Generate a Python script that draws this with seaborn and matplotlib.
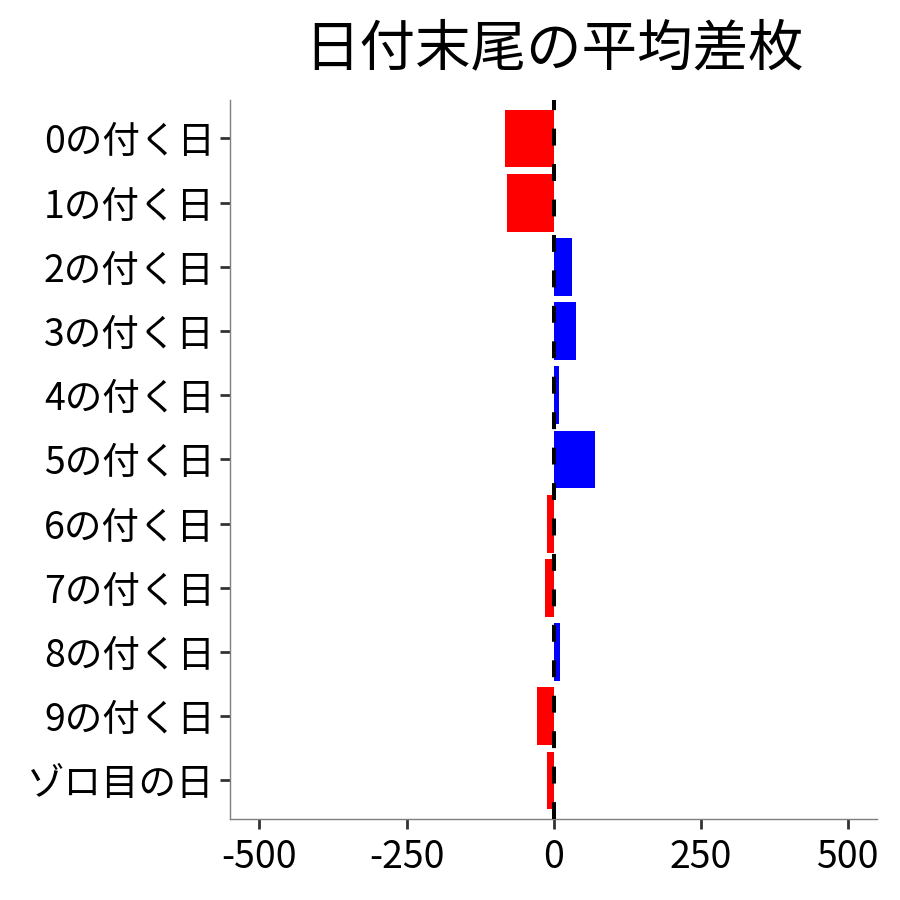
import matplotlib
matplotlib.use("Agg")
import matplotlib.pyplot as plt
import seaborn as sns
import pandas as pd

categories = ["0の付く日", "1の付く日", "2の付く日", "3の付く日", "4の付く日",
              "5の付く日", "6の付く日", "7の付く日", "8の付く日", "9の付く日", "ゾロ目の日"]
values = [-83, -79, 32, 38, 9, 70, -11, -15, 11, -28, -11]
title = "日付末尾の平均差枚"
xticks = [-500, -250, 0, 250, 500]

sns.set_theme(style="white")
plt.rcParams['font.family'] = ['Noto Sans CJK JP', 'DejaVu Sans']

df = pd.DataFrame({"cat": categories, "val": values})
df["sign"] = ["neg" if v < 0 else "pos" for v in values]

fig = plt.figure(figsize=(9, 9), dpi=100)
ax = fig.add_axes([0.2556, 0.09, 0.719, 0.799])

sns.barplot(data=df, y="cat", x="val", hue="sign", order=categories,
            palette={"neg": "#FF0000", "pos": "#0000FF"}, orient="h",
            dodge=False, width=0.9, legend=False, ax=ax, linewidth=0,
            saturation=1)

ax.axvline(0, color="black", linewidth=2.9, linestyle=(0, (4.2, 4.6)), zorder=5)

ax.set_xlim(-550, 550)
ax.set_ylim(len(categories) - 0.4, -0.6)
ax.set_xticks(xticks)
ax.set_xticklabels([str(t) for t in xticks])
ax.set_xlabel("")
ax.set_ylabel("")
ax.set_title(title, fontsize=40, pad=25, color="black")

for s in ["top", "right"]:
    ax.spines[s].set_visible(False)
for s in ["left", "bottom"]:
    ax.spines[s].set_color("#7f7f7f")
    ax.spines[s].set_linewidth(1.0)

ax.tick_params(axis="both", which="major", direction="out", length=7, width=2,
               color="#333333", labelsize=27, labelcolor="black", pad=4,
               left=True, bottom=True)
ax.tick_params(axis="x", pad=7)
ax.grid(False)

fig.savefig("out.png", dpi=100)
